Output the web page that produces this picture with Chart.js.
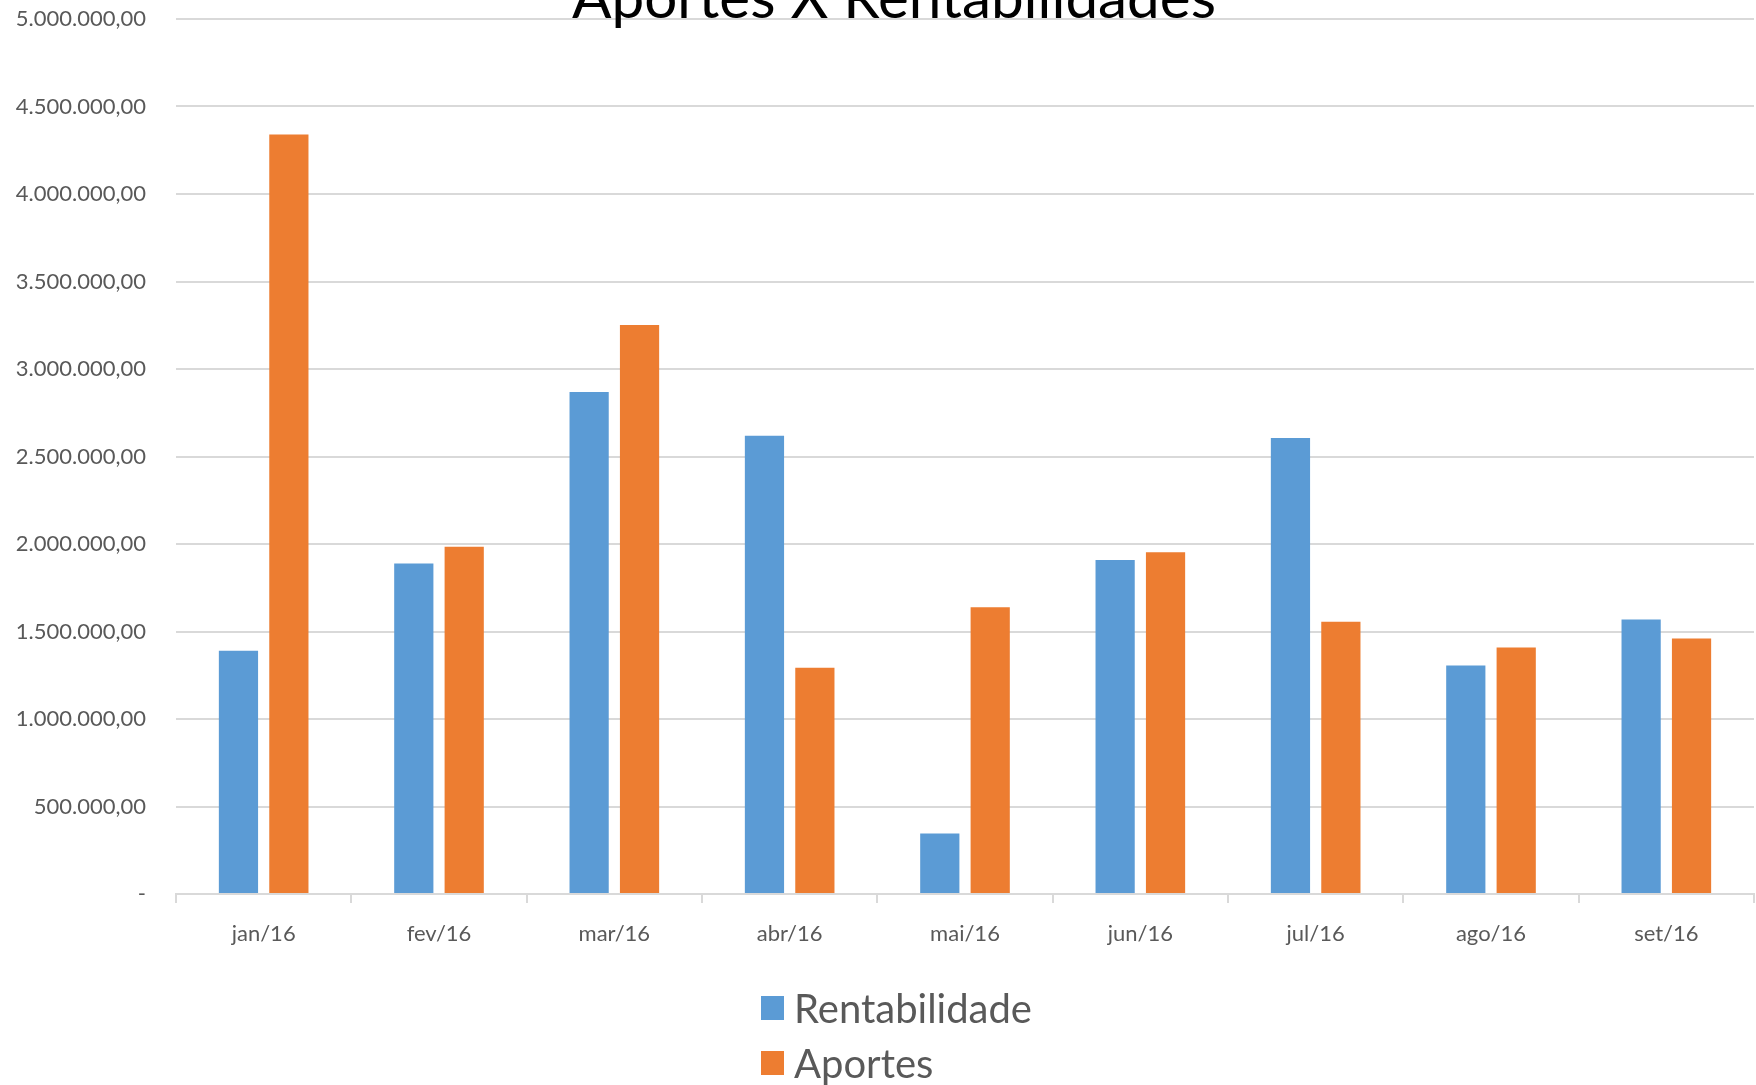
<!DOCTYPE html>
<html>
<head>
<meta charset="utf-8">
<title>Aportes X Rentabilidades</title>
<script src="https://cdn.jsdelivr.net/npm/chart.js@4"></script>
<style>
  html, body { margin: 0; padding: 0; background: #fff; overflow: hidden; }
  #wrap { position: absolute; left: 0; top: 0; width: 1756px; height: 1085px; }
  .legend { position: absolute; left: 761px; top: 980px; font-family: Lato, sans-serif; font-size: 40px; color: #595959; }
  .legend-item { display: flex; align-items: center; height: 55px; }
  .legend-box { width: 23px; height: 24px; margin-right: 10px; }
</style>
</head>
<body>
<div id="wrap"><canvas id="chart"></canvas></div>
<div class="legend" id="legend"></div>
<script>
// ── Data ─────────────────────────────────────────────────
const TITLE = 'Aportes X Rentabilidades';
const categories = ['jan/16', 'fev/16', 'mar/16', 'abr/16', 'mai/16', 'jun/16', 'jul/16', 'ago/16', 'set/16'];
const rentabilidade = [1390000, 1889000, 2868000, 2618000, 346000, 1908000, 2606000, 1306000, 1568000];
const aportes = [4340000, 1985000, 3252000, 1293000, 1639000, 1953000, 1556000, 1408000, 1460000];
const yMax = 5000000;
const yStep = 500000;

const COLORS = { rent: '#5B9BD5', aport: '#ED7D31', grid: '#D9D9D9', text: '#595959' };

// plot area wanted (page px): left, top, right, bottom
const AREA = { left: 176, top: 19, right: 1754, bottom: 894 };

// pt-BR number format, Excel style ("-" for zero)
function formatBR(v) {
  if (v === 0) return '-';
  const [i, d] = v.toFixed(2).split('.');
  return i.replace(/\B(?=(\d{3})+(?!\d))/g, '.') + ',' + d;
}

// title overlaps the plot area in the original, so draw it by hand
const titlePlugin = {
  id: 'overlayTitle',
  afterDraw(chart) {
    const ctx = chart.ctx;
    ctx.save();
    ctx.font = '58.4px Lato, sans-serif';
    ctx.fillStyle = '#000';
    ctx.textAlign = 'center';
    ctx.textBaseline = 'alphabetic';
    ctx.fillText(TITLE, 894, 18);
    ctx.restore();
  },
};

const datasets = [
  { label: 'Rentabilidade', data: rentabilidade, backgroundColor: COLORS.rent },
  { label: 'Aportes', data: aportes, backgroundColor: COLORS.aport },
];

function draw() {
  const chart = new Chart(document.getElementById('chart'), {
    type: 'bar',
    data: { labels: categories, datasets: datasets },
    plugins: [titlePlugin],
    options: {
      responsive: true,
      maintainAspectRatio: false,
      animation: false,
      datasets: { bar: { categoryPercentage: 0.575, barPercentage: 0.778 } },
      layout: { padding: { top: 19, left: 14, right: 2, bottom: 140 } },
      plugins: {
        legend: { display: false },
        title: { display: false },
        tooltip: { enabled: false },
      },
      scales: {
        x: {
          grid: { drawOnChartArea: false, drawTicks: true, tickLength: 9, color: COLORS.grid, lineWidth: 2 },
          border: { color: COLORS.grid, width: 2 },
          ticks: { color: COLORS.text, font: { family: 'Lato', size: 22 }, padding: 18 },
        },
        y: {
          min: 0,
          max: yMax,
          ticks: { stepSize: yStep, color: COLORS.text, font: { family: 'Lato', size: 22 }, padding: 0, callback: v => formatBR(v) },
          // invisible tick marks give the 30px gap without padding the top
          grid: { color: COLORS.grid, lineWidth: 2, drawTicks: true, tickLength: 30, tickColor: 'rgba(0,0,0,0)' },
          border: { display: false },
        },
      },
    },
  });

  // nudge the paddings so the plot area lands where it is in the original
  for (let i = 0; i < 3; i++) {
    const a = chart.chartArea;
    const p = chart.options.layout.padding;
    p.left += AREA.left - a.left;
    p.top += AREA.top - a.top;
    p.right += a.right - AREA.right;
    p.bottom += a.bottom - AREA.bottom;
    chart.update('none');
  }
}

// legend (two rows, like the original)
document.getElementById('legend').innerHTML = datasets.map(ds =>
  `<div class="legend-item"><span class="legend-box" style="background:${ds.backgroundColor}"></span>${ds.label}</div>`
).join('');

const fontsReady = document.fonts
  ? Promise.all([document.fonts.load('22px Lato'), document.fonts.load('58px Lato')]).catch(() => null)
  : Promise.resolve();
fontsReady.then(draw);
</script>
</body>
</html>
